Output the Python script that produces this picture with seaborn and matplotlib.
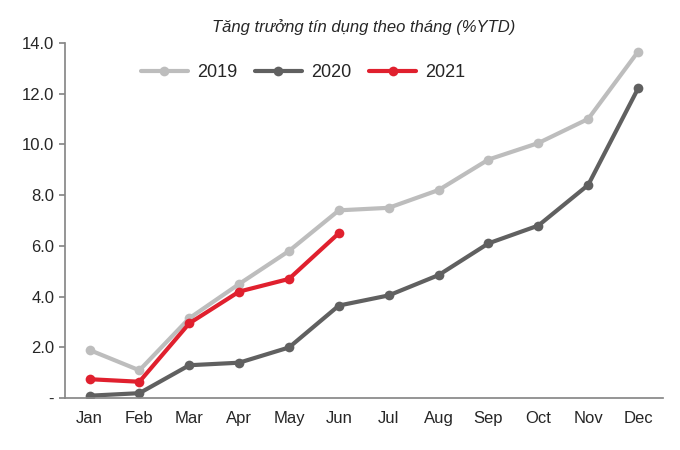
import matplotlib
matplotlib.use("Agg")
import matplotlib.pyplot as plt
import seaborn as sns
import pandas as pd

months = ["Jan", "Feb", "Mar", "Apr", "May", "Jun", "Jul", "Aug", "Sep", "Oct", "Nov", "Dec"]
y2019 = [1.9, 1.1, 3.15, 4.5, 5.8, 7.4, 7.5, 8.2, 9.4, 10.05, 11.0, 13.65]
y2020 = [0.1, 0.2, 1.3, 1.4, 2.0, 3.65, 4.05, 4.85, 6.1, 6.8, 8.4, 12.2]
y2021 = [0.75, 0.65, 2.95, 4.2, 4.7, 6.5]

rows = []
for yr, vals in [("2019", y2019), ("2020", y2020), ("2021", y2021)]:
    for i, v in enumerate(vals):
        rows.append({"x": i, "value": v, "year": yr})
df = pd.DataFrame(rows)

sns.set_theme(style="white")
plt.rcParams["font.family"] = ["Liberation Sans", "DejaVu Sans"]

fig, ax = plt.subplots(figsize=(6.8, 4.5), dpi=100)
palette = {"2019": "#BDBDBD", "2020": "#606060", "2021": "#E0202E"}
sns.lineplot(data=df, x="x", y="value", hue="year", palette=palette,
             marker="o", markersize=7, markeredgewidth=0, linewidth=3, ax=ax)

ax.set_xlim(-0.5, 11.5)
ax.set_ylim(0, 14)
ax.set_xticks(range(12))
ax.set_xticklabels(months, fontsize=12)
yt = [0, 2, 4, 6, 8, 10, 12, 14]
ax.set_yticks(yt)
ax.set_yticklabels(["-"] + [f"{v:.1f}" for v in yt[1:]], fontsize=12)
ax.set_xlabel("")
ax.set_ylabel("")
for s in ["top", "right"]:
    ax.spines[s].set_visible(False)
for s in ["left", "bottom"]:
    ax.spines[s].set_color("#888888")
ax.tick_params(axis="y", left=True, length=4, color="#888888")
ax.tick_params(axis="x", bottom=False)
ax.set_title("Tăng trưởng tín dụng theo tháng (%YTD)", fontsize=12,
             style="italic", pad=8)
ax.legend(ncol=3, frameon=False, loc="upper left", bbox_to_anchor=(0.1, 0.985),
          fontsize=13, handlelength=2.6, columnspacing=1.0, handletextpad=0.5)

plt.subplots_adjust(left=0.095, right=0.975, top=0.905, bottom=0.115)
plt.savefig("out.png", dpi=100)
